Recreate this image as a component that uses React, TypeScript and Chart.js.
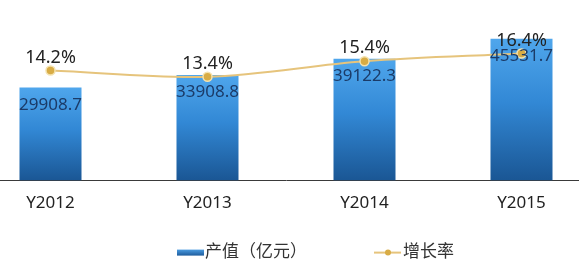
import { useEffect, useRef } from "react";
import { Chart, registerables } from "chart.js";

Chart.register(...registerables);

// Annual output value and growth rate
const years = ["Y2012", "Y2013", "Y2014", "Y2015"];
const outputValues = [29908.7, 33908.8, 39122.3, 45531.7];
const growthRates = [14.2, 13.4, 15.4, 16.4];
const outputLabel = "产值（亿元）";
const growthLabel = "增长率";

const FONT = '"Noto Sans", "Noto Sans CJK SC", sans-serif';
const LINE_COLOR = "#E6C47C";
const POINT_FILL = "#D8AC45";
const POINT_EDGE = "#F4E2AE";

function barGradient(ctx: CanvasRenderingContext2D, top: number, bottom: number) {
  const g = ctx.createLinearGradient(0, top, 0, bottom);
  g.addColorStop(0, "#4FA6EC");
  g.addColorStop(0.45, "#3288D5");
  g.addColorStop(1, "#1A5694");
  return g;
}

const barFill = (c: any) => {
  const chart = c.chart;
  if (!chart.chartArea || typeof c.raw !== "number") return "#2F80CC";
  const y = chart.scales.y;
  return barGradient(chart.ctx, y.getPixelForValue(c.raw), y.getPixelForValue(0));
};

// Value labels: inside the top of each bar, and above each growth point
const valueLabels = {
  id: "valueLabels",
  afterDatasetsDraw(chart: any) {
    const ctx = chart.ctx;
    ctx.save();
    ctx.textAlign = "center";
    ctx.textBaseline = "middle";
    ctx.font = `17px ${FONT}`;
    ctx.fillStyle = "#1B3B68";
    chart.getDatasetMeta(0).data.forEach((bar: any, i: number) => {
      ctx.fillText(outputValues[i].toFixed(1), bar.x, bar.y + 17.5);
    });
    ctx.font = `18px ${FONT}`;
    ctx.fillStyle = "#222222";
    chart.getDatasetMeta(1).data.forEach((pt: any, i: number) => {
      ctx.fillText(growthRates[i].toFixed(1) + "%", pt.x, pt.y - 13);
    });
    ctx.restore();
  },
};

// Legend row below the category labels
const bottomLegend = {
  id: "bottomLegend",
  afterDraw(chart: any) {
    const ctx = chart.ctx;
    const cy = chart.chartArea.bottom + 72;
    ctx.save();
    ctx.font = `17px ${FONT}`;
    ctx.textBaseline = "middle";
    ctx.textAlign = "left";
    ctx.fillStyle = "#333333";

    let x = 205;
    // bar swatch
    const sw = ctx.createLinearGradient(0, cy - 3, 0, cy + 3);
    sw.addColorStop(0, "#4A9BE0");
    sw.addColorStop(1, "#1E5C9C");
    ctx.fillStyle = sw;
    ctx.fillRect(x, cy - 3, 27, 6);
    x += 28;
    ctx.fillStyle = "#333333";
    ctx.fillText(chart.data.datasets[0].label, x, cy);
    x += ctx.measureText(chart.data.datasets[0].label).width + 67;

    // line swatch with marker
    ctx.strokeStyle = LINE_COLOR;
    ctx.lineWidth = 2;
    ctx.beginPath();
    ctx.moveTo(x, cy);
    ctx.lineTo(x + 27, cy);
    ctx.stroke();
    ctx.beginPath();
    ctx.arc(x + 14, cy, 3, 0, Math.PI * 2);
    ctx.fillStyle = POINT_FILL;
    ctx.fill();
    x += 29;
    ctx.fillStyle = "#333333";
    ctx.fillText(chart.data.datasets[1].label, x, cy);
    ctx.restore();
  },
};

export default function App() {
  const ref = useRef<HTMLCanvasElement>(null);

  useEffect(() => {
    const canvas = ref.current;
    if (!canvas) return;
    const chart = new Chart(canvas, {
      type: "bar",
      data: {
        labels: years,
        datasets: [
          {
            type: "bar",
            label: outputLabel,
            data: outputValues,
            yAxisID: "y",
            order: 1,
            backgroundColor: barFill,
            borderWidth: 0,
            categoryPercentage: 1,
            barPercentage: 0.395,
          },
          {
            type: "line",
            label: growthLabel,
            data: growthRates,
            yAxisID: "y2",
            order: 0,
            borderColor: LINE_COLOR,
            borderWidth: 2,
            tension: 0.35,
            pointRadius: 4.5,
            pointBackgroundColor: POINT_FILL,
            pointBorderColor: POINT_EDGE,
            pointBorderWidth: 1.5,
          },
        ],
      } as any,
      options: {
        responsive: false,
        animation: false,
        layout: { autoPadding: false, padding: { left: 0, right: 0, top: 0, bottom: 54 } },
        plugins: {
          legend: { display: false },
          tooltip: { enabled: false },
        },
        scales: {
          x: {
            grid: { display: false, drawTicks: false },
            border: { display: true, color: "#3A3A3A", width: 1 },
            ticks: {
              color: "#222222",
              font: { size: 17, family: FONT },
              padding: 12,
              maxRotation: 0,
              autoSkip: false,
            },
          },
          y: { display: false, min: 0, max: 58000 },
          y2: { display: false, position: "right", min: 0, max: 23.3 },
        },
      } as any,
      plugins: [valueLabels, bottomLegend],
    });
    return () => chart.destroy();
  }, []);

  return (
    <div
      style={{
        position: "fixed",
        left: 0,
        top: 0,
        width: 579,
        height: 279,
        overflow: "hidden",
        background: "#ffffff",
      }}
    >
      <canvas
        ref={ref}
        width={628}
        height={279}
        style={{ position: "absolute", left: -28, top: 0 }}
      />
    </div>
  );
}
